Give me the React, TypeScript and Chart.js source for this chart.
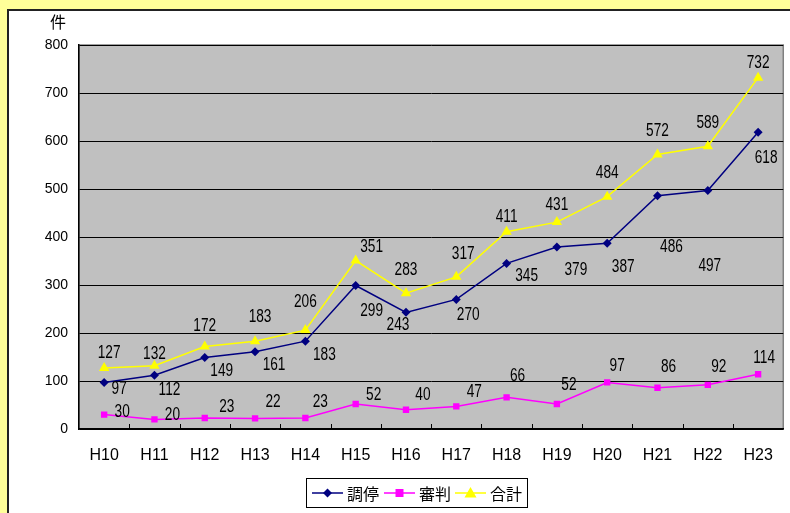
import React, { useEffect, useRef } from "react";
import { Chart, registerables } from "chart.js";

Chart.register(...registerables);

const categories = ["H10", "H11", "H12", "H13", "H14", "H15", "H16", "H17", "H18", "H19", "H20", "H21", "H22", "H23"];
const seriesNames = ["調停", "審判", "合計"];
const chotei = [97, 112, 149, 161, 183, 299, 243, 270, 345, 379, 387, 486, 497, 618];
const shinpan = [30, 20, 23, 22, 23, 52, 40, 47, 66, 52, 97, 86, 92, 114];
const gokei = [127, 132, 172, 183, 206, 351, 283, 317, 411, 431, 484, 572, 589, 732];
const yMin = 0;
const yMax = 800;
const yStep = 100;
const yUnit = "件";

// label nudges (pixels) for the value annotations
const choteiLabelNudge = [[15, 7], [15, 15], [17, 14], [19, 13], [19, 14], [16, 26], [-8, 13], [12, 16], [20, 13], [19, 23], [16, 24], [14, 51], [2, 76], [8, 26]];
const shinpanLabelNudge = [[18, -3], [18, -4], [22, -11], [18, -16], [15, -16], [18, -9], [17, -15], [18, -14], [11, -21], [12, -19], [10, -16], [11, -21], [11, -18], [6, -16]];
const gokeiLabelNudge = [[5, -15], [0, -12], [0, -20], [5, -24], [0, -28], [16, -13], [0, -23], [7, -23], [0, -15], [0, -17], [0, -24], [0, -23], [0, -23], [0, -15]];

const colors = ["#000080", "#FF00FF", "#FFFF00"];

function drawMarker(ctx: CanvasRenderingContext2D, kind: number, x: number, y: number) {
  ctx.save();
  ctx.fillStyle = colors[kind];
  ctx.beginPath();
  if (kind === 0) {
    const r = 4.5;
    ctx.moveTo(x, y - r);
    ctx.lineTo(x + r, y);
    ctx.lineTo(x, y + r);
    ctx.lineTo(x - r, y);
  } else if (kind === 1) {
    ctx.rect(x - 4, y - 4, 8, 8);
  } else {
    ctx.moveTo(x, y - 6);
    ctx.lineTo(x + 6, y + 4.5);
    ctx.lineTo(x - 6, y + 4.5);
  }
  ctx.closePath();
  ctx.fill();
  ctx.restore();
}

const decorPlugin = {
  id: "decor",
  beforeDraw(chart: any) {
    const { ctx, chartArea: a } = chart;
    ctx.save();
    ctx.fillStyle = "#C0C0C0";
    ctx.fillRect(a.left, a.top, a.right - a.left, a.bottom - a.top);
    ctx.strokeStyle = "#808080";
    ctx.lineWidth = 1.5;
    ctx.strokeRect(a.left, a.top, a.right - a.left, a.bottom - a.top);
    ctx.restore();
  },
  afterDraw(chart: any) {
    const { ctx, chartArea: a } = chart;
    const xs = chart.scales.x;
    ctx.save();
    // x tick marks
    ctx.strokeStyle = "#000";
    ctx.lineWidth = 1;
    for (let k = 1; k < categories.length; k++) {
      const px = Math.round((xs.getPixelForValue(k - 1) + xs.getPixelForValue(k)) / 2) + 0.5;
      ctx.beginPath();
      ctx.moveTo(px, a.bottom);
      ctx.lineTo(px, a.bottom - 5);
      ctx.stroke();
    }
    // value labels
    const nudges = [choteiLabelNudge, shinpanLabelNudge, gokeiLabelNudge];
    chart.data.datasets.forEach((ds: any, i: number) => {
      const meta = chart.getDatasetMeta(i);
      meta.data.forEach((pt: any, j: number) => {
        const [dx, dy] = nudges[i][j];
        ctx.save();
        ctx.translate(pt.x + dx, pt.y + dy);
        ctx.scale(0.76, 1);
        ctx.font = '18px "Liberation Sans"';
        ctx.textAlign = "center";
        ctx.textBaseline = "middle";
        ctx.fillStyle = "#000";
        ctx.fillText(String(ds.data[j]), 0, 0);
        ctx.restore();
      });
    });
    // unit
    ctx.font = '16px "Noto Sans CJK JP"';
    ctx.fillStyle = "#000";
    ctx.textAlign = "center";
    ctx.textBaseline = "middle";
    ctx.fillText(yUnit, 58, 22);
    // legend
    const lx = 306, ly = 478, lw = 221, lh = 29;
    ctx.fillStyle = "#fff";
    ctx.fillRect(lx, ly, lw, lh);
    ctx.strokeStyle = "#000";
    ctx.lineWidth = 1;
    ctx.strokeRect(lx + 0.5, ly + 0.5, lw, lh);
    const starts = [312, 384, 455];
    const cy = ly + 15;
    seriesNames.forEach((name, i) => {
      const sx = starts[i];
      ctx.strokeStyle = colors[i];
      ctx.lineWidth = 1.5;
      ctx.beginPath();
      ctx.moveTo(sx, cy);
      ctx.lineTo(sx + 31, cy);
      ctx.stroke();
      drawMarker(ctx, i, sx + 15.5, cy);
      ctx.fillStyle = "#000";
      ctx.font = '16px "Noto Sans CJK JP"';
      ctx.textAlign = "left";
      ctx.textBaseline = "middle";
      ctx.fillText(name, sx + 35, cy + 1);
    });
    ctx.restore();
  },
};

export default function App() {
  const ref = useRef<HTMLCanvasElement | null>(null);
  useEffect(() => {
    if (!ref.current) return;
    const chart = new Chart(ref.current, {
      type: "line",
      data: {
        labels: categories,
        datasets: [
          {
            label: seriesNames[0],
            data: chotei,
            borderColor: colors[0],
            backgroundColor: colors[0],
            borderWidth: 1.5,
            pointStyle: "rectRot",
            pointRadius: 4.5,
            pointBorderWidth: 0,
            tension: 0,
          },
          {
            label: seriesNames[1],
            data: shinpan,
            borderColor: colors[1],
            backgroundColor: colors[1],
            borderWidth: 1.5,
            pointStyle: "rect",
            pointRadius: 4.5,
            pointBorderWidth: 0,
            tension: 0,
          },
          {
            label: seriesNames[2],
            data: gokei,
            borderColor: colors[2],
            backgroundColor: colors[2],
            borderWidth: 1.5,
            pointStyle: "triangle",
            pointRadius: 6,
            pointBorderWidth: 0,
            tension: 0,
          },
        ],
      },
      options: {
        animation: false,
        responsive: false,
        devicePixelRatio: 1,
        layout: { padding: { top: 45, right: 2, left: 0, bottom: 0 } },
        plugins: { legend: { display: false }, tooltip: { enabled: false } },
        scales: {
          x: {
            offset: true,
            grid: { display: false, drawTicks: false },
            border: { display: true, color: "#000", width: 1.5 },
            ticks: { color: "#000", font: { family: "Liberation Sans", size: 16 }, padding: 17, maxRotation: 0 },
            afterFit: (s: any) => { s.height = 84; },
          },
          y: {
            min: yMin,
            max: yMax,
            grid: { color: "#000", lineWidth: 1, drawTicks: false },
            border: { display: true, color: "#000", width: 1.5 },
            ticks: { stepSize: yStep, color: "#000", font: { family: "Liberation Sans", size: 14 }, padding: 11 },
            afterFit: (s: any) => { s.width = 79; },
          },
        },
      },
      plugins: [decorPlugin],
    } as any);
    return () => chart.destroy();
  }, []);
  return (
    <div style={{ position: "fixed", left: 0, top: 0, width: 790, height: 513, background: "#FFFF99", overflow: "hidden" }}>
      <div style={{ position: "absolute", left: 7, top: 9, width: 800, height: 520, background: "#fff", borderLeft: "2px solid #222", borderTop: "2px solid #222" }} />
      <canvas ref={ref} width={790} height={513} style={{ position: "absolute", left: 0, top: 0, width: 790, height: 513 }} />
    </div>
  );
}
